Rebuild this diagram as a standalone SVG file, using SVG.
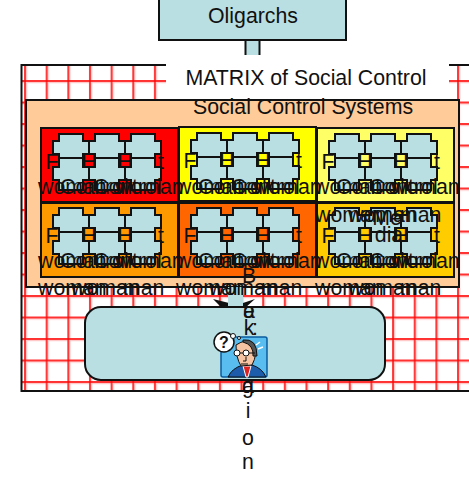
<svg xmlns="http://www.w3.org/2000/svg" width="469" height="487" viewBox="0 0 469 487">
<style>
text{font-family:"Liberation Sans",Arial,sans-serif;fill:#111;font-size:21.3px}
.b{stroke:#111;stroke-width:2}
.t{fill:#b9dfe3}
.m{text-anchor:middle}
.p{fill:#b9dfe3;stroke:#111;stroke-width:2}
.l{fill:none;stroke:#111;stroke-width:2}
</style>
<defs>
<pattern id="g" x="24" y="58.500" width="21.650" height="21.500" patternUnits="userSpaceOnUse">
<rect width="21.650" height="21.500" fill="#fff"/>
<path d="M1 0V21.500M0 1H21.650" stroke="#f00" stroke-opacity=".22" stroke-width="4.500"/>
<path d="M1 0V21.500M0 1H21.650" stroke="#f00" stroke-width="1.400"/>
</pattern>
<path id="piece" d="M18 0H42V7H48V20H42V33H48V46H42V56H18V46H12V33H18V20H12V7H18Z"/>
<g id="cell">
<text x="4.500" y="35">F</text><text class="m" x="48" y="35">H</text><text class="m" x="84" y="35">H</text><text x="117" y="35">t</text>
<use href="#piece" class="p"/><use href="#piece" class="p" x="36"/><use href="#piece" class="p" x="72"/>
<path class="l" d="M18 24H42M54 24H78M90 24H114"/>
</g>
<g id="words">
<text x="-3" y="60">woman</text><text x="19" y="60">Control</text><text x="52" y="60">Control</text><text x="74" y="60">woman</text>
</g>
<g id="under">
<text x="-3" y="0">woman</text><text x="30" y="0">woman</text><text x="82" y="0">man</text>
</g>
</defs>
<g id="oligarchs"><rect class="b t" x="159" y="-2" width="187" height="42"/><text class="m" x="253" y="23">Oligarchs</text></g>
<g id="connectors"><rect class="b t" x="245.500" y="40" width="14" height="16"/></g>
<g id="matrix"><rect x="21.500" y="65" width="500" height="326" fill="url(#g)" stroke="#111" stroke-width="2"/>
<rect x="166" y="55" width="283" height="45" fill="#fff"/>
<text class="m" x="306" y="85">MATRIX of Social Control</text></g>
<g id="systems"><rect class="b" x="26" y="100" width="433" height="187" fill="#fc9"/>
<text class="m" x="303" y="114">Social Control Systems</text></g>
<g id="cell-red"><rect class="b" x="41" y="128" width="137" height="74" fill="#f00"/><use href="#cell" x="41" y="134"/></g>
<g id="cell-yellow"><rect class="b" x="179" y="127" width="137" height="74" fill="#ff0"/><use href="#cell" x="179" y="133"/></g>
<g id="cell-lightyellow"><rect class="b" x="317" y="128" width="137" height="74" fill="#ff6"/><use href="#cell" x="317" y="134"/></g>
<g id="cell-orange"><rect class="b" x="41" y="203" width="137" height="74" fill="#f90"/><use href="#cell" x="41" y="208"/></g>
<g id="cell-deeporange"><rect class="b" x="179" y="203" width="137" height="74" fill="#f60"/><use href="#cell" x="179" y="208"/></g>
<g id="cell-gold"><rect class="b" x="317" y="203" width="137" height="74" fill="#fc0"/><use href="#cell" x="317" y="208"/></g>
<g id="population"><path fill="#111" d="M213 299L229 303V307H243V303L255 299L245 308H222Z"/><rect class="t" x="228" y="287" width="15" height="20"/>
<rect class="b t" x="85" y="307" width="300" height="73" rx="16"/></g>
<g id="labels">
<use href="#words" x="41" y="134"/><use href="#words" x="179" y="134"/><use href="#words" x="317" y="134"/>
<use href="#words" x="41" y="208"/><use href="#words" x="179" y="208"/><use href="#words" x="317" y="208"/>
<use href="#under" x="318" y="222"/>
<text class="m" x="387" y="225">Me</text><text class="m" x="389" y="242">dia</text>
<use href="#under" x="41" y="295"/><use href="#under" x="179" y="295"/><use href="#under" x="318" y="295"/>
<g>
<text class="m" x="249" y="283">B</text><text class="m" x="249" y="318">e</text><text class="m" x="249" y="318">a</text>
<text class="m" x="249" y="335">k</text><text class="m" x="255" y="335">:</text>
<text class="m" x="248" y="393">g</text><text class="m" x="248" y="393">a</text>
<text class="m" x="248" y="418">i</text><text class="m" x="248" y="445">o</text><text class="m" x="248" y="469">n</text>
</g>
</g>
<g id="person">
<rect x="221" y="337" width="46" height="40" rx="2" fill="#59bdf0" stroke="#0b5c9e" stroke-width="1.500"/>
<path d="M228 377Q232 368 243 365H252Q262 368 266 377Z" fill="#1d5cab" stroke="#111"/>
<path d="M243 366L246 377H248L251 366Z" fill="#d22" stroke="#fff"/>
<path d="M236 345Q246 338 254 344Q258 354 252 365L241 366Q236 358 236 345Z" fill="#f6c4a2" stroke="#111"/>
<path d="M243 340Q257 338 257 356L253 356Q254 345 243 342Z" fill="#555" stroke="#111"/>
<circle cx="237" cy="353" r="3" fill="#fff" stroke="#111"/><circle cx="246" cy="353" r="3" fill="#fff" stroke="#111"/>
<path d="M240 353H243M249 353H255M246 357V361H243M241 364H248" fill="none" stroke="#111"/>
<path d="M256 345L260 342M258 349L263 347" stroke="#fff" stroke-width="1.500"/>
<circle cx="224" cy="342" r="10" fill="#fff" stroke="#111" stroke-width="1.500"/>
<circle cx="233" cy="336" r="2.500" fill="#fff" stroke="#111"/><circle cx="239" cy="338" r="1.500" fill="#fff" stroke="#111"/>
<text x="224" y="348" text-anchor="middle" style="font-size:16px;font-weight:bold">?</text>
</g>
</svg>
